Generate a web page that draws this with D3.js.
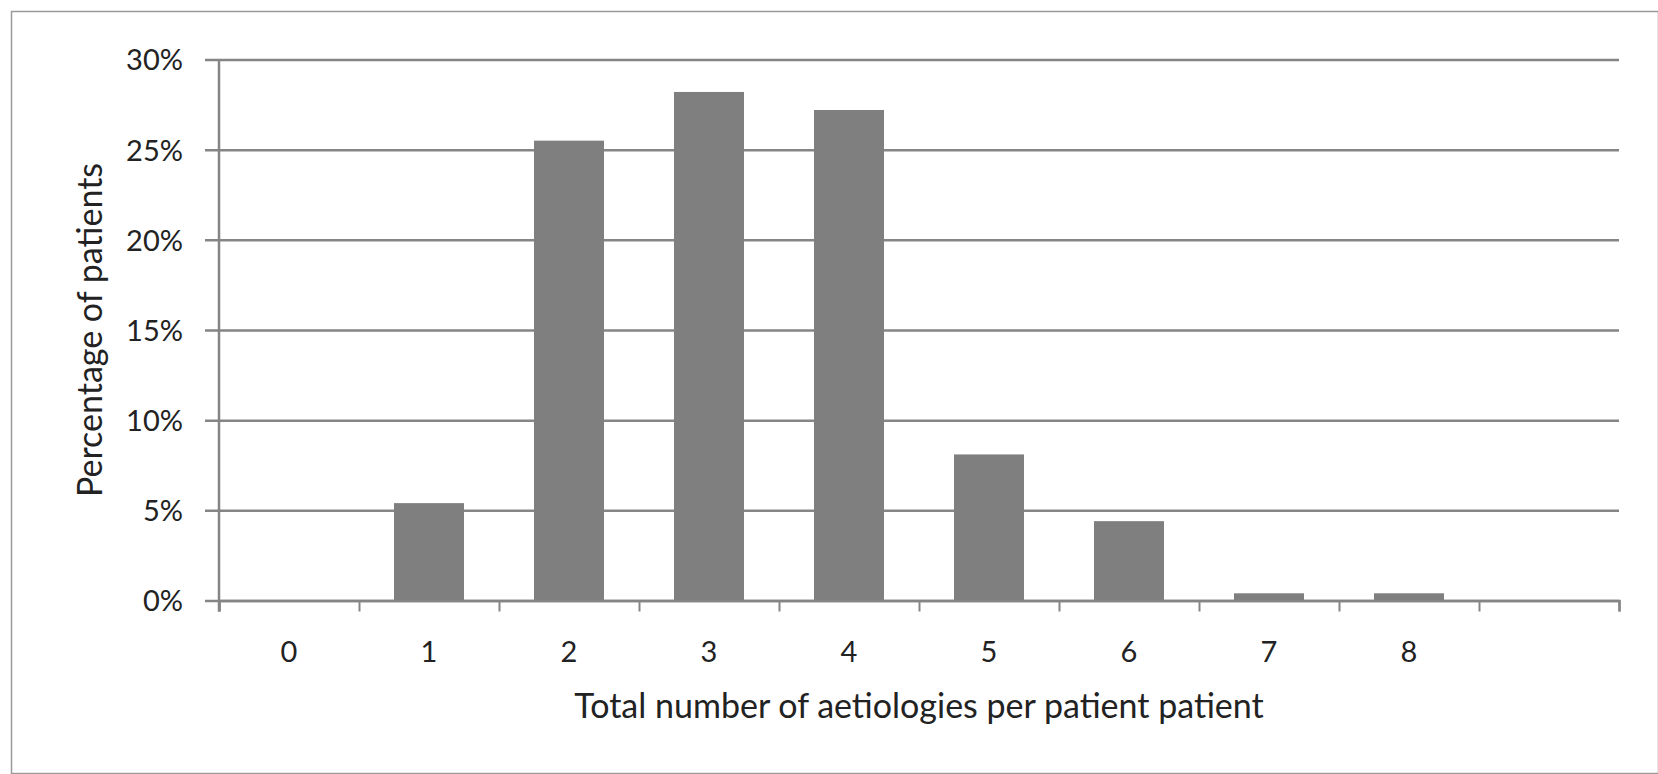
<!DOCTYPE html>
<html>
<head>
<meta charset="utf-8">
<script src="https://cdn.jsdelivr.net/npm/d3@7"></script>
<style>
  html, body { margin: 0; padding: 0; background: #fff; }
  svg text { font-family: Lato, "Open Sans", sans-serif; fill: #222; }
</style>
</head>
<body>
<div id="chart"></div>
<script>
// Values (percent of patients)
const categories = ['0', '1', '2', '3', '4', '5', '6', '7', '8', '']
const percentages = [0, 5.4, 25.5, 28.2, 27.2, 8.1, 4.4, 0.4, 0.4]
const yTicks = [0, 5, 10, 15, 20, 25, 30]
const xTitle = 'Total number of aetiologies per patient patient'
const yTitle = 'Percentage of patients'

const width = 1658, height = 774
const plot = { left: 219, right: 1619, top: 59.5, bottom: 600.5 }

const svg = d3.select('#chart')
  .append('svg')
  .attr('width', width)
  .attr('height', height)

// outer frame
svg.append('rect')
  .attr('x', 11.5).attr('y', 11.5)
  .attr('width', width - 11).attr('height', height - 12)
  .attr('fill', 'none')
  .attr('stroke', '#9a9a9a')
  .attr('stroke-width', 1.5)

const x = d3.scaleBand()
  .domain(categories)
  .range([plot.left, plot.right])
  .paddingInner(0.5)
  .paddingOuter(0.25)

// boundaries between categories, for tick marks
const xEdge = d3.scaleLinear()
  .domain([0, categories.length])
  .range([plot.left, plot.right])

const y = d3.scaleLinear()
  .domain([0, 30])
  .range([plot.bottom, plot.top])

// horizontal gridlines with left tick stubs
svg.append('g')
  .attr('transform', `translate(${plot.left},0)`)
  .call(d3.axisLeft(y).tickValues(yTicks).tickSize(-(plot.right - plot.left)).tickFormat(''))
  .call(g => g.select('.domain').remove())
  .call(g => g.selectAll('.tick line')
    .attr('x1', -14)
    .attr('stroke', '#858585')
    .attr('stroke-width', 2.5))

// y tick labels
svg.append('g')
  .attr('transform', `translate(183,0)`)
  .call(d3.axisLeft(y).tickValues(yTicks).tickSize(0).tickPadding(0).tickFormat(d => d + '%'))
  .call(g => g.select('.domain').remove())
  .call(g => g.selectAll('text')
    .attr('font-size', 29)
    .attr('dy', '0.36em'))

// bars
svg.selectAll('.bar')
  .data(percentages)
  .enter()
  .append('rect')
  .attr('class', 'bar')
  .attr('x', (d, i) => x(categories[i]))
  .attr('width', x.bandwidth())
  .attr('y', d => y(d))
  .attr('height', d => y(0) - y(d))
  .attr('fill', '#7f7f7f')

// x axis line + boundary ticks
svg.append('g')
  .attr('transform', `translate(0,${plot.bottom})`)
  .call(d3.axisBottom(xEdge).ticks(categories.length).tickSize(11).tickFormat('').tickSizeOuter(11))
  .call(g => g.select('.domain').attr('stroke', '#858585').attr('stroke-width', 2.5))
  .call(g => g.selectAll('.tick line').attr('stroke', '#858585').attr('stroke-width', 2))

// y axis line
svg.append('line')
  .attr('x1', plot.left).attr('x2', plot.left)
  .attr('y1', y(30)).attr('y2', plot.bottom + 11)
  .attr('stroke', '#858585')
  .attr('stroke-width', 2.5)

// category labels
svg.append('g')
  .attr('transform', `translate(0,${plot.bottom})`)
  .call(d3.axisBottom(x).tickSize(0).tickPadding(0))
  .call(g => g.select('.domain').remove())
  .call(g => g.selectAll('text')
    .attr('y', 51)
    .attr('dy', '0.36em')
    .attr('font-size', 29))

// axis titles
svg.append('text')
  .attr('x', (plot.left + plot.right) / 2)
  .attr('y', 706)
  .attr('dy', '0.36em')
  .attr('text-anchor', 'middle')
  .attr('font-size', 34)
  .text(xTitle)

svg.append('text')
  .attr('transform', 'rotate(-90)')
  .attr('x', -330)
  .attr('y', 90)
  .attr('dy', '0.36em')
  .attr('text-anchor', 'middle')
  .attr('font-size', 34)
  .text(yTitle)
</script>
</body>
</html>
